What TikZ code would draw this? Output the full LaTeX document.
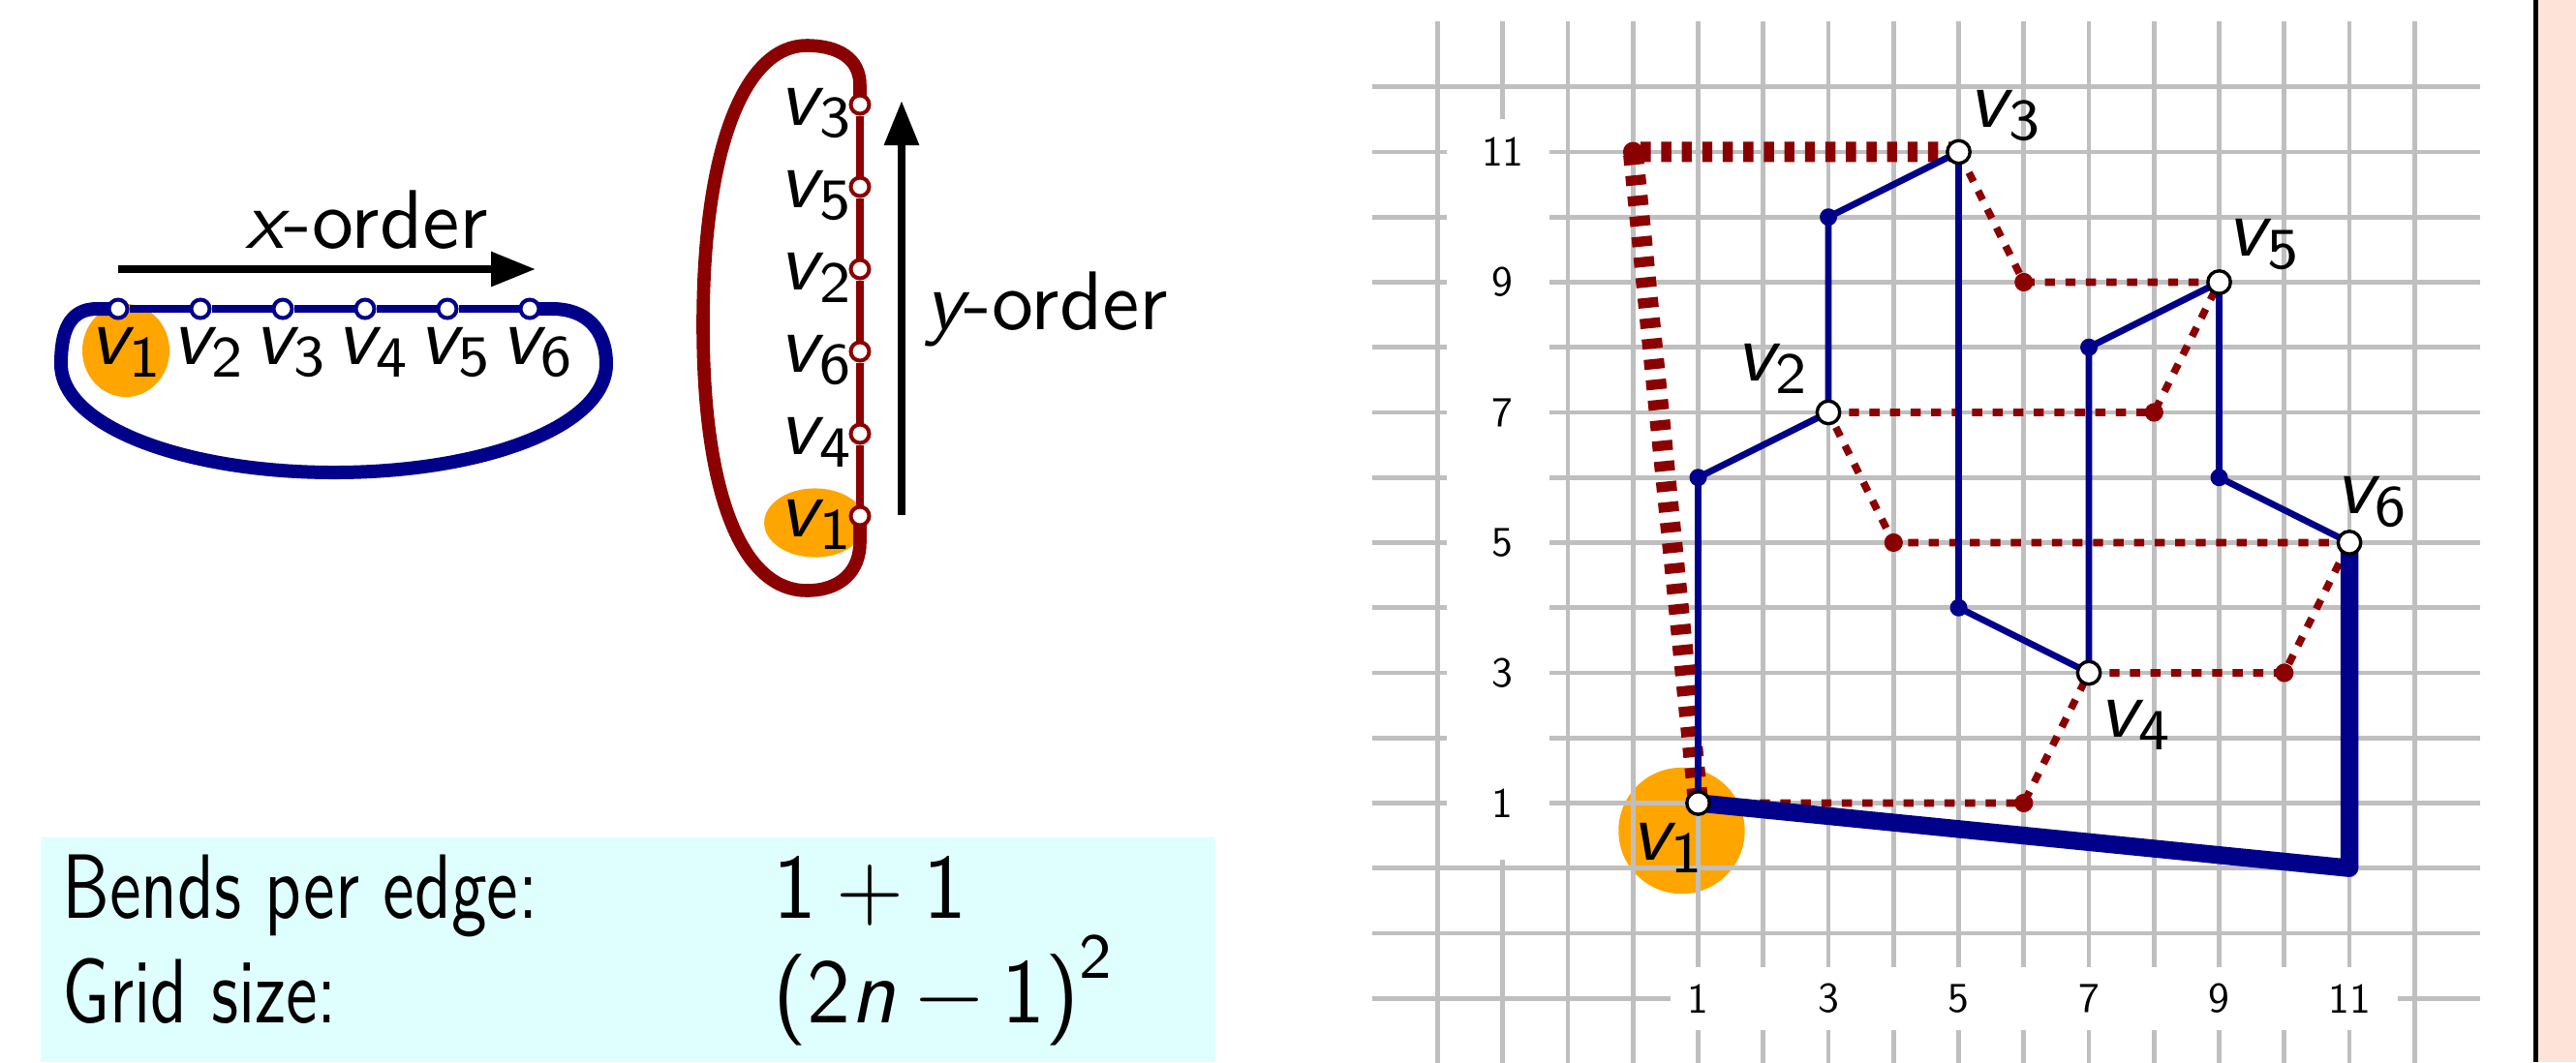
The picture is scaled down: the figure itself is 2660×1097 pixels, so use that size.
\documentclass[tikz,border=0pt]{standalone}
\usetikzlibrary{arrows.meta}
\newcommand{\vlab}[1]{{\slshape v}\kern0.02em\raisebox{-0.15em}{\fontsize{7}{7}\selectfont\upshape #1}}
\definecolor{dblue}{RGB}{0,0,139}
\definecolor{dred}{RGB}{139,0,0}
\definecolor{orng}{RGB}{255,165,0}
\definecolor{gridgray}{RGB}{191,191,191}
\definecolor{cyanbg}{RGB}{223,255,255}
\definecolor{pinkbg}{RGB}{254,228,216}
\pgfdeclarelayer{back}
\pgfdeclarelayer{edges}
\pgfsetlayers{back,edges,main}
\begin{document}
\begin{tikzpicture}[x=0.25pt,y=-0.25pt,
  txt/.style={font=\fontsize{10}{12}\selectfont\sffamily, inner sep=0pt, scale=2.15},
  maintxt/.style={font=\fontsize{10}{12}\selectfont\sffamily, inner sep=0pt, xscale=1.83, yscale=2.36},
  valtxt/.style={font=\fontsize{10}{12}\selectfont\sffamily, inner sep=0pt, xscale=2.25, yscale=2.36},
  gridnum/.style={font=\fontsize{10}{12}\selectfont\sffamily, inner sep=0pt, scale=1.09},
  gridline/.style={draw=gridgray, line width=1.18pt},
  xvert/.style={circle, draw=dblue, fill=white, line width=1pt, minimum size=4.75pt, inner sep=0pt},
  yvert/.style={circle, draw=dred, fill=white, line width=1pt, minimum size=4.75pt, inner sep=0pt},
  gvert/.style={circle, draw=black, fill=white, line width=0.85pt, minimum size=5.85pt, inner sep=0pt},
  bthin/.style={draw=dblue, line width=1.9pt},
  rthin/.style={draw=dred, line width=1.9pt},
  bloop/.style={draw=dblue, line width=3.5pt},
  rloop/.style={draw=dred, line width=3.4pt},
  orderarrow/.style={draw=black, line width=2pt, -{Triangle[length=11.5pt,width=8.6pt]}},
  bline/.style={draw=dblue, line width=1.7pt},
  bthick/.style={draw=dblue, line width=4.6pt, line join=round},
  rdot/.style={draw=dred, line width=1.9pt, dash pattern=on 2.6pt off 2.7pt},
  rdotthick/.style={draw=dred, line width=5.25pt, dash pattern=on 2.6pt off 2.7pt},
]
\useasboundingbox (0,0) rectangle (2660,1097);

% ---------- right panel edge ----------
\fill[pinkbg] (2621,0) rectangle (2660,1097);
\fill[black] (2616,0) rectangle (2621,1097);

% ---------- info box ----------
\fill[cyanbg] (42,865) rectangle (1255,1097);
\node[maintxt, anchor=base west] (bends) at (63,948) {Bends per edge:};
\node[valtxt, anchor=base west] (bendsval) at (797,948) {1\hspace{0.22em}+\hspace{0.22em}1};
\node[maintxt, anchor=base west] (gridsz) at (63,1056) {Grid size:};
\node[valtxt, anchor=base west] (gridval) at (797,1056) {(2{\slshape n}\hspace{0.22em}−\hspace{0.22em}1)\raisebox{0.48em}{\fontsize{7}{7}\selectfont 2}};

% ---------- x-order ----------
\begin{pgfonlayer}{back}
  \fill[orng] (130,362) ellipse[x radius=11.25pt, y radius=12pt];
\end{pgfonlayer}
\foreach \i/\xx in {1/122,2/207,3/292,4/377,5/462,6/547}
  \node[xvert] (xv\i) at (\xx,319) {};
\begin{pgfonlayer}{edges}
  \draw[bthin] (xv1) -- (xv2) -- (xv3) -- (xv4) -- (xv5) -- (xv6);
  \draw[bloop] (xv1.center) -- (100,319) .. controls (70,319) and (63,345) .. (63,376)
     .. controls (63,440) and (190,488) .. (345,488)
     .. controls (500,488) and (626,440) .. (626,376)
     .. controls (626,340) and (605,319) .. (570,319) -- (xv6.center);
\end{pgfonlayer}
\foreach \i/\xx in {1/122,2/207,3/292,4/377,5/462,6/547}
  \node[txt] (xl\i) at (\xx+7,364) {\vlab{\i}};
\coordinate (xa0) at (122,278);
\coordinate (xa1) at (553,278);
\draw[orderarrow] (xa0) -- (xa1);
\node[txt, anchor=base west] (xord) at (252,256) {{\slshape x}-order};

% ---------- y-order ----------
\begin{pgfonlayer}{back}
  \fill[orng] (841.5,540) ellipse[x radius=13.1pt, y radius=8.9pt];
\end{pgfonlayer}
\foreach \i/\yy in {3/108,5/193,2/278,6/363,4/448,1/533}
  \node[yvert] (yv\i) at (888,\yy) {};
\begin{pgfonlayer}{edges}
  \draw[rthin] (yv3) -- (yv5) -- (yv2) -- (yv6) -- (yv4) -- (yv1);
  \draw[rloop] (yv3.center) -- (888,88) .. controls (888,60) and (865,47) .. (833,47)
     .. controls (770,47) and (726,150) .. (726,335)
     .. controls (726,520) and (770,610) .. (833,610)
     .. controls (868,610) and (888,590) .. (888,560) -- (yv1.center);
\end{pgfonlayer}
\foreach \i/\yy in {3/108,5/193,2/278,6/363,4/448,1/533}
  \node[txt] (yl\i) at (841.5,\yy+9) {\vlab{\i}};
\coordinate (ya0) at (931,532);
\coordinate (ya1) at (931,104);
\draw[orderarrow] (ya0) -- (ya1);
\node[txt, anchor=base west] (yord) at (954,340) {{\slshape y}-order};

% ---------- grid drawing ----------
\begin{scope}[shift={(1686.3,896.7)}, x=16.8125pt, y=16.8125pt]
  \begin{pgfonlayer}{back}
    \fill[orng] (0.746,0.575) circle[radius=16.3pt];
    \foreach \k in {-2,...,12} \draw[gridline] (-4,\k) -- (13,\k);
    \foreach \k in {-3,...,12} \draw[gridline] (\k,-3) -- (\k,13);
    \fill[white] (-2.86,0.13) rectangle (-1.28,11.5);
    \fill[white] (0.58,-2.48) rectangle (11.74,-1.52);
    \foreach \k in {1,3,5,7,9,11} {
      \node[gridnum] (ny\k) at (-2,\k) {\k};
      \node[gridnum] (nx\k) at (\k,-2) {\k};
    }
  \end{pgfonlayer}
  \node[gvert] (gv1) at (1,1) {};
  \node[gvert] (gv2) at (3,7) {};
  \node[gvert] (gv3) at (5,11) {};
  \node[gvert] (gv4) at (7,3) {};
  \node[gvert] (gv5) at (9,9) {};
  \node[gvert] (gv6) at (11,5) {};
  \coordinate (b12) at (1,6);
  \coordinate (b23) at (3,10);
  \coordinate (b34) at (5,4);
  \coordinate (b45) at (7,8);
  \coordinate (b56) at (9,6);
  \coordinate (b61) at (11,0);
  \coordinate (r14) at (6,1);
  \coordinate (r46) at (10,3);
  \coordinate (r62) at (4,5);
  \coordinate (r25) at (8,7);
  \coordinate (r53) at (6,9);
  \coordinate (r31) at (0,11);
  \begin{pgfonlayer}{edges}
    \draw[rdot] (gv1.center) -- (r14) -- (gv4.center);
    \draw[rdot] (gv4.center) -- (r46) -- (gv6.center);
    \draw[rdot] (gv6.center) -- (r62) -- (gv2.center);
    \draw[rdot] (gv2.center) -- (r25) -- (gv5.center);
    \draw[rdot] (gv5.center) -- (r53) -- (gv3.center);
    \draw[rdotthick] (gv3.center) -- (r31) -- (gv1.center);
    \foreach \c in {r14,r46,r62,r25,r53} \fill[dred] (\c) circle[radius=2.4pt];
    \fill[dred] (r31) circle[radius=2.6pt];
    \draw[bline] (gv1.center) -- (b12) -- (gv2.center);
    \draw[bline] (gv2.center) -- (b23) -- (gv3.center);
    \draw[bline] (gv3.center) -- (b34) -- (gv4.center);
    \draw[bline] (gv4.center) -- (b45) -- (gv5.center);
    \draw[bline] (gv5.center) -- (b56) -- (gv6.center);
    \draw[bthick] (gv6.center) -- (b61) -- (gv1.center);
    \foreach \c in {b12,b23,b34,b45,b56} \fill[dblue] (\c) circle[radius=2.25pt];
  \end{pgfonlayer}
  \node[txt] (gl1) at (0.52,0.31) {\vlab{1}};
  \node[txt] (gl2) at (2.12,7.67) {\vlab{2}};
  \node[txt] (gl3) at (5.70,11.56) {\vlab{3}};
  \node[txt] (gl4) at (7.70,2.20) {\vlab{4}};
  \node[txt] (gl5) at (9.67,9.58) {\vlab{5}};
  \node[txt] (gl6) at (11.33,5.63) {\vlab{6}};
\end{scope}
\end{tikzpicture}
\end{document}
